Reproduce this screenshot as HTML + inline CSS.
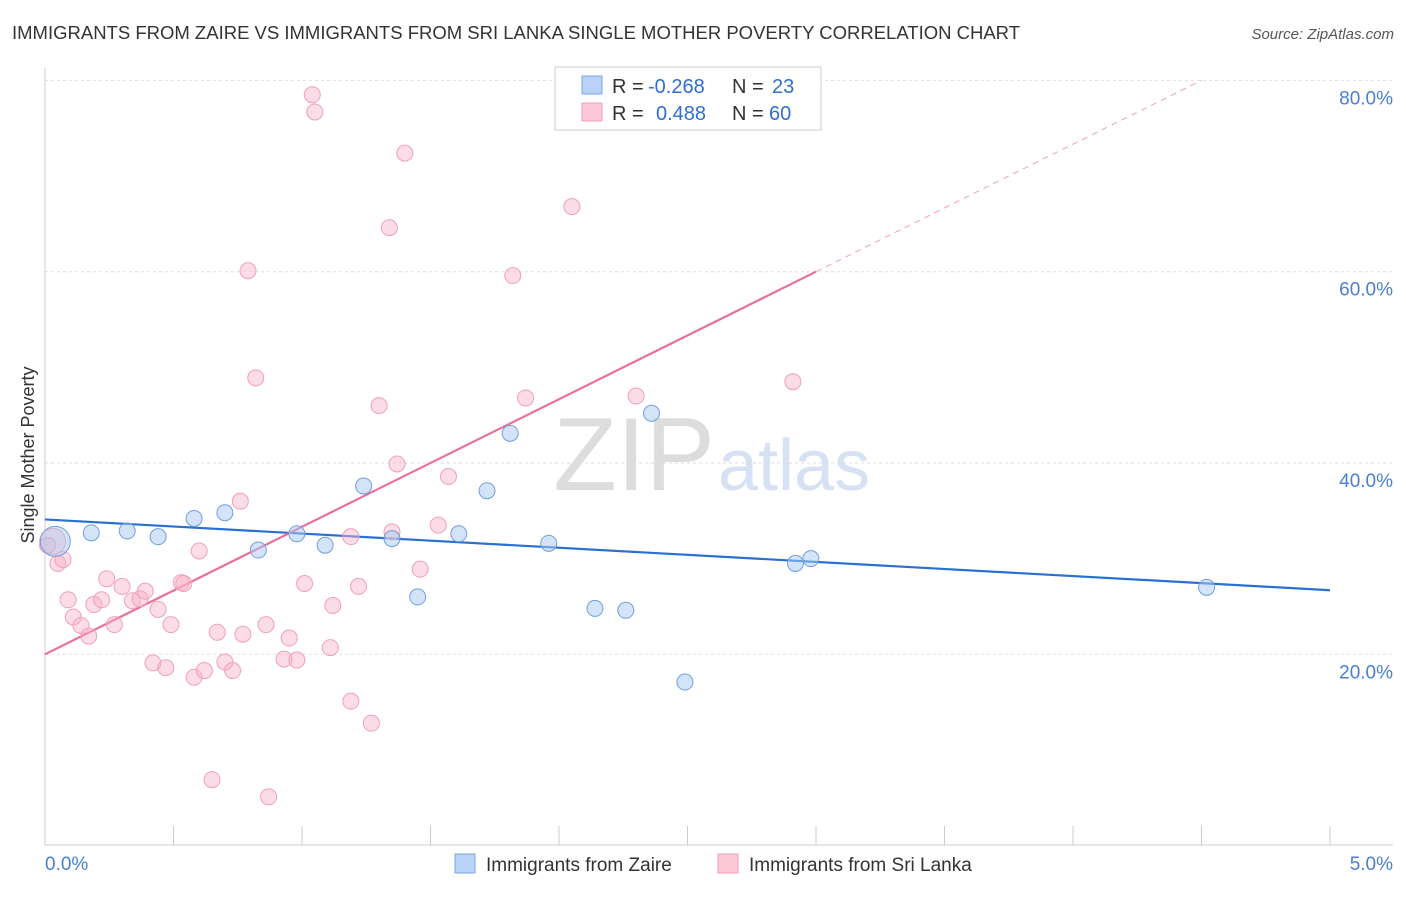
<!DOCTYPE html>
<html><head><meta charset="utf-8"><style>
body{margin:0;background:#fff;font-family:"Liberation Sans",sans-serif;}
svg text{font-family:"Liberation Sans",sans-serif;}
</style></head><body>
<svg id="c" width="1406" height="892" xmlns="http://www.w3.org/2000/svg">
<text x="12" y="39" font-size="18" fill="#333" textLength="1008" lengthAdjust="spacingAndGlyphs">IMMIGRANTS FROM ZAIRE VS IMMIGRANTS FROM SRI LANKA SINGLE MOTHER POVERTY CORRELATION CHART</text>
<text x="1394" y="39" font-size="15" fill="#555" text-anchor="end" font-style="italic">Source: ZipAtlas.com</text>
<text x="715" y="490" font-size="104" fill="#ddd" text-anchor="end" font-family="Liberation Serif">ZIP</text>
<text x="718" y="490" font-size="72" fill="#d6e2f3">atlas</text>
<text x="34" y="455" font-size="18" fill="#333" text-anchor="middle" transform="rotate(-90 34 455)">Single Mother Poverty</text>
<g id="grid"></g><g id="axes"></g><g id="lines"></g><g id="pts"></g>
<g>
<rect x="555" y="67" width="266" height="63" fill="#fff" stroke="#ccc"/>
<rect x="582" y="76" width="20" height="18" fill="#b8d3f5" stroke="#7aa7e0"/>
<rect x="582" y="103" width="20" height="18" fill="#fac8d7" stroke="#f0a0b8"/>
<text y="93" font-size="20" fill="#333"><tspan x="612">R =</tspan><tspan x="648" fill="#2f6fd0">-0.268</tspan><tspan x="732">N =</tspan><tspan x="772" fill="#2f6fd0">23</tspan></text>
<text y="120" font-size="20" fill="#333"><tspan x="612">R =</tspan><tspan x="656" fill="#2f6fd0">0.488</tspan><tspan x="732">N =</tspan><tspan x="769" fill="#2f6fd0">60</tspan></text>
</g>
<g>
<rect x="455" y="854" width="20" height="19" fill="#b8d3f5" stroke="#7aa7e0"/>
<text x="486" y="871" font-size="19" fill="#333">Immigrants from Zaire</text>
<rect x="718" y="854" width="20" height="19" fill="#fac8d7" stroke="#f0a0b8"/>
<text x="749" y="871" font-size="19" fill="#333">Immigrants from Sri Lanka</text>
</g>
</svg>
<script>
const xTicks=[0,5];
const yTicks=[20,40,60,80];
const zaireX=[0.04,0.18,0.32,0.44,0.58,0.70,0.83,0.98,1.09,1.24,1.35,1.45,1.61,1.72,1.81,1.96,2.14,2.26,2.36,2.49,2.92,2.98,4.52];
const zaireY=[31.8,32.7,32.9,32.3,34.2,34.8,30.9,32.6,31.4,37.6,32.1,26.0,32.6,37.1,43.1,31.6,24.8,24.6,45.2,17.1,29.5,30.0,27.0];
const lankaX=[0.03,0.05,0.07,0.09,0.11,0.14,0.17,0.19,0.22,0.24,0.27,0.30,0.34,0.37,0.39,0.42,0.44,0.47,0.49,0.53,0.54,0.58,0.60,0.62,0.65,0.67,0.70,0.73,0.76,0.77,0.79,0.82,0.86,0.87,0.93,0.95,0.98,1.01,1.04,1.05,1.11,1.12,1.19,1.19,1.22,1.27,1.30,1.34,1.35,1.37,1.40,1.46,1.53,1.57,1.82,1.87,2.05,2.30,2.91,0.01];
const lankaY=[31.8,29.5,29.9,25.7,23.9,23.0,21.9,25.2,25.7,27.9,23.1,27.1,25.6,25.8,26.6,19.1,24.7,18.6,23.1,27.5,27.4,17.6,30.8,18.3,6.9,22.3,19.2,18.3,36.0,22.1,60.1,48.9,23.1,5.1,19.5,21.7,19.4,27.4,78.5,76.7,20.7,25.1,32.3,15.1,27.1,12.8,46.0,64.6,32.8,39.9,72.4,28.9,33.5,38.6,59.6,46.8,66.8,47.0,48.5,31.4];
const zaireTrend=[34.1,26.7];
const lankaTrend=[20.0,60.0,80.0]; // at x=0, 3.0, 4.5
const sx=v=>45+v*257, sy=v=>845.6-v*9.565;
const NS='http://www.w3.org/2000/svg';
function mk(p,t,a){const e=document.createElementNS(NS,t);for(const k in a)e.setAttribute(k,a[k]);p.appendChild(e);return e;}
const g=document.getElementById('grid'),ax=document.getElementById('axes'),ln=document.getElementById('lines'),pt=document.getElementById('pts');
yTicks.forEach(v=>{
 const l=mk(g,'line',{x1:45,x2:1393,y1:sy(v),y2:sy(v),stroke:'#ddd','stroke-dasharray':'3,3'});
 
 
 const t=mk(g,'text',{x:1393,y:sy(v)+24,'font-size':19,fill:'#4a7fd4','text-anchor':'end'});t.textContent=v.toFixed(1)+'%';
 
 
});
mk(ax,'line',{x1:45,x2:1393,y1:845,y2:845,stroke:'#ccc'});
mk(ax,'line',{x1:45,x2:45,y1:68,y2:845,stroke:'#ccc'});
for(let i=0;i<=10;i++){const x=sx(i*0.5);mk(ax,'line',{x1:x,x2:x,y1:826,y2:845,stroke:'#ccc'});}
xTicks.forEach((v,i)=>{const t=mk(ax,'text',{x:i?1393:45,y:870,'font-size':19,fill:'#4a7fd4','text-anchor':i?'end':'start'});t.textContent=v.toFixed(1)+'%';
 
 });
let l=mk(ln,'line',{x1:sx(0),y1:sy(zaireTrend[0]),x2:sx(5),y2:sy(zaireTrend[1]),stroke:'#2a6fd4','stroke-width':2.2});


l=mk(ln,'line',{x1:sx(0),y1:sy(lankaTrend[0]),x2:sx(3),y2:sy(lankaTrend[1]),stroke:'#e8709a','stroke-width':2.2});


l=mk(ln,'line',{x1:sx(3),y1:sy(lankaTrend[1]),x2:sx(4.5),y2:sy(lankaTrend[2]),stroke:'#f0a0b8','stroke-width':1,'stroke-dasharray':'6,5'});


lankaX.forEach((x,i)=>{const c=mk(pt,'circle',{cx:sx(x),cy:sy(lankaY[i]),r:i==0?13:8,fill:'rgba(248,178,200,0.45)',stroke:'#f0a0b8','stroke-width':1});
 
 });
zaireX.forEach((x,i)=>{const c=mk(pt,'circle',{cx:sx(x),cy:sy(zaireY[i]),r:i==0?15:8,fill:'rgba(170,202,242,0.5)',stroke:'#6f9fdc','stroke-width':1});
 
 });
</script>
</body></html>
